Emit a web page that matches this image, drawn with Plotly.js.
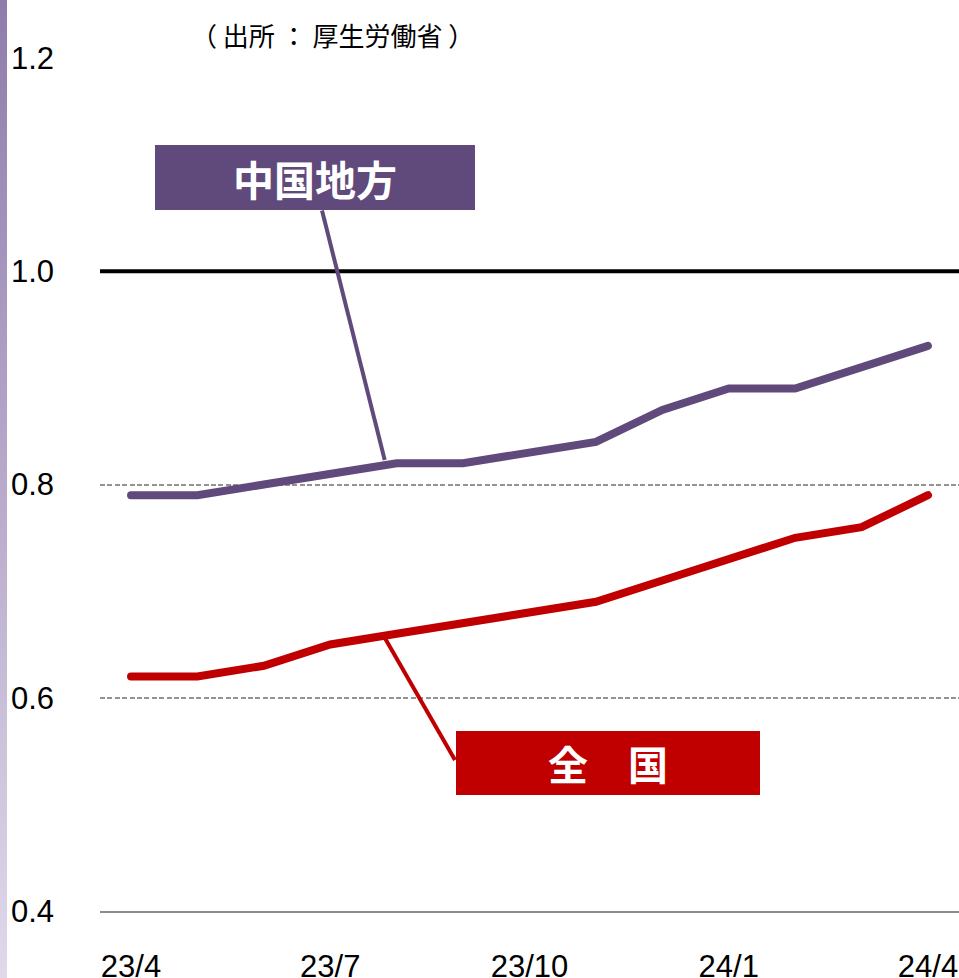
<!DOCTYPE html>
<html>
<head>
<meta charset="utf-8">
<script src="https://cdn.plot.ly/plotly-3.0.1.min.js"></script>
<style>
  html, body { margin: 0; padding: 0; background: #ffffff; }
  #wrap { position: relative; width: 959px; height: 978px; }
  #chart { position: absolute; left: 0; top: 0; width: 959px; height: 978px; }
  #sidebar { position: absolute; left: 0; top: 0; width: 7px; height: 978px;
             background: linear-gradient(#8f7cab, #e0d9ea); z-index: 5; }
  .scatterlayer path.js-line { stroke-linecap: round; }
</style>
</head>
<body>
<div id="wrap">
  <div id="chart"></div>
  <div id="sidebar"></div>
</div>
<script>
// ---- data ----
const months = ["23/4","23/5","23/6","23/7","23/8","23/9","23/10","23/11","23/12","24/1","24/2","24/3","24/4"];
const chugoku = [0.79, 0.79, 0.80, 0.81, 0.82, 0.82, 0.83, 0.84, 0.87, 0.89, 0.89, 0.91, 0.93];
const zenkoku = [0.62, 0.62, 0.63, 0.65, 0.66, 0.67, 0.68, 0.69, 0.71, 0.73, 0.75, 0.76, 0.79];
const xTickIdx = [0, 3, 6, 9, 12];
const xTickText = ["23/4", "23/7", "23/10", "24/1", "24/4"];
const yTickVals = [0.4, 0.6, 0.8, 1.0, 1.2];
const yTickText = ["0.4", "0.6", "0.8", "1.0", "1.2"];
const labelChugoku = "中国地方";
const labelZenkoku = "全\u3000国";
const sourceText = "（ 出所 ： 厚生労働省 ）";

const PURPLE = "#604a7b";
const RED = "#c00000";
const xIdx = months.map((_, i) => i);

const traces = [
  { x: xIdx, y: zenkoku, type: "scatter", mode: "lines",
    line: { color: RED, width: 8 }, hoverinfo: "skip" },
  { x: xIdx, y: chugoku, type: "scatter", mode: "lines",
    line: { color: PURPLE, width: 8 }, hoverinfo: "skip" }
];

const layout = {
  width: 959, height: 978,
  margin: { l: 100, r: 0, t: 58, b: 67 },
  paper_bgcolor: "#ffffff", plot_bgcolor: "#ffffff",
  showlegend: false,
  font: { family: "Liberation Sans, Arial, sans-serif", color: "#000" },
  xaxis: {
    range: [-0.467, 12.467],
    tickvals: xTickIdx, ticktext: xTickText,
    showgrid: false, zeroline: false,
    showline: true, linecolor: "#8c8c8c", linewidth: 2,
    ticks: "", ticklabelstandoff: 27,
    tickfont: { size: 31, family: "Liberation Sans, Arial, sans-serif", color: "#000" },
    fixedrange: true
  },
  yaxis: {
    range: [0.4, 1.2],
    tickvals: yTickVals, ticktext: yTickText,
    showgrid: true, gridcolor: "#939393", gridwidth: 2, griddash: "5px,2.4px",
    zeroline: false, showline: false,
    ticks: "", ticklabelstandoff: 45,
    tickfont: { size: 31, family: "Liberation Sans, Arial, sans-serif", color: "#000" },
    fixedrange: true
  },
  shapes: [
    { type: "line", xref: "paper", yref: "y", x0: 0, x1: 1, y0: 1.0, y1: 1.0,
      line: { color: "#000", width: 4 }, layer: "above" },
    { type: "line", xref: "x", yref: "y", x0: 2.876, y0: 1.057, x1: 3.82, y1: 0.823,
      line: { color: PURPLE, width: 4 } },
    { type: "line", xref: "x", yref: "y", x0: 3.794, y0: 0.659, x1: 4.878, y1: 0.5416,
      line: { color: RED, width: 4 } }
  ],
  annotations: [
    { xref: "paper", yref: "paper", x: 0.2705, y: 1.0275, xanchor: "center", yanchor: "middle",
      text: sourceText, showarrow: false,
      font: { family: "Noto Sans CJK JP", size: 26, color: "#000" } },
    { xref: "x", yref: "y", x: 2.77, y: 1.088, xanchor: "center", yanchor: "middle",
      text: labelChugoku, showarrow: false, bgcolor: PURPLE, width: 320, height: 65,
      borderpad: 0, borderwidth: 0,
      font: { family: "Noto Sans CJK JP", size: 41, color: "#fff", weight: "bold" } },
    { xref: "x", yref: "y", x: 7.18, y: 0.5388, xanchor: "center", yanchor: "middle",
      text: labelZenkoku, showarrow: false, bgcolor: RED, width: 304, height: 64,
      borderpad: 0, borderwidth: 0,
      font: { family: "Noto Sans CJK JP", size: 40, color: "#fff", weight: "bold" } }
  ]
};

Plotly.newPlot("chart", traces, layout, { displayModeBar: false, staticPlot: true });
</script>
</body>
</html>
